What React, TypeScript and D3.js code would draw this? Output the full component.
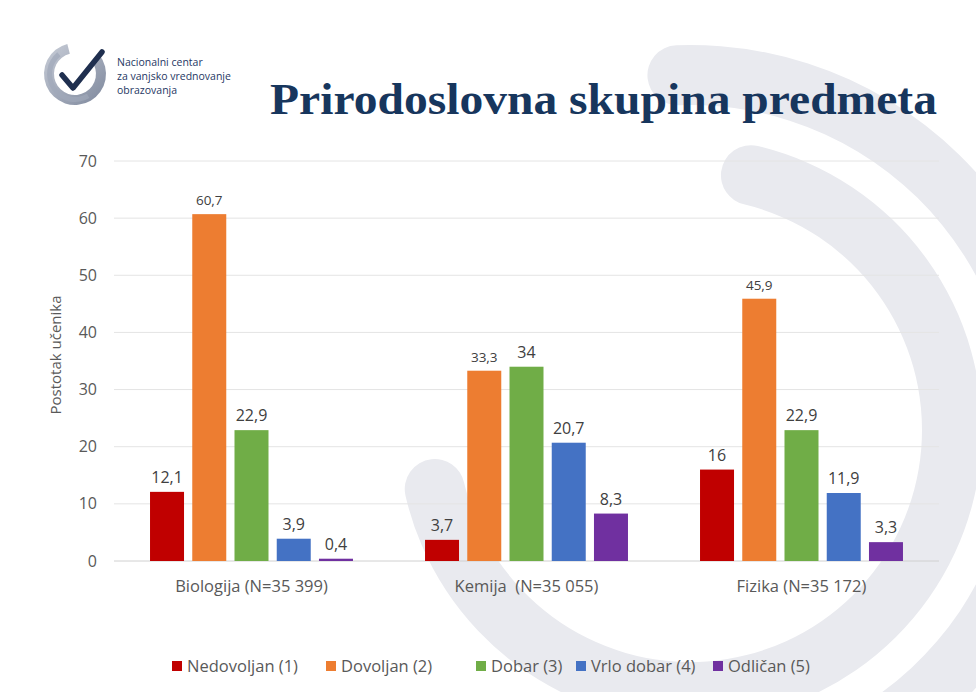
import React from "react";
import * as d3 from "d3";

const categories = ["Biologija (N=35 399)", "Kemija  (N=35 055)", "Fizika (N=35 172)"];
const seriesNames = ["Nedovoljan (1)", "Dovoljan (2)", "Dobar (3)", "Vrlo dobar (4)", "Odličan (5)"];
const seriesColors = ["#c00000", "#ed7d31", "#70ad47", "#4472c4", "#7030a0"];
const nedovoljan = [12.1, 3.7, 16];
const dovoljan = [60.7, 33.3, 45.9];
const dobar = [22.9, 34, 22.9];
const vrloDobar = [3.9, 20.7, 11.9];
const odlican = [0.4, 8.3, 3.3];
const yTicks = [0, 10, 20, 30, 40, 50, 60, 70];
const seriesValues = [nedovoljan, dovoljan, dobar, vrloDobar, odlican];

const W = 976;
const H = 692;
const FONT = "'Open Sans', Lato, sans-serif";

export default function App() {
  const x0 = d3.scaleBand<string>().domain(categories).range([114, 939]).paddingInner(0.262).paddingOuter(0.131);
  const x1 = d3.scaleBand<string>().domain(seriesNames).range([0, x0.bandwidth()]).paddingInner(0.195).paddingOuter(0);
  const y = d3.scaleLinear().domain([0, 70]).range([561, 161]);
  const fmt = (v: number) => String(v).replace(".", ",");

  const arcGen = d3.arc<any>().cornerRadius(30);
  const bgArcs = [
    { innerRadius: 325, outerRadius: 385, startAngle: -0.12, endAngle: 3.75 },
    { innerRadius: 232, outerRadius: 292, startAngle: 0.12, endAngle: 4.6 },
  ];

  const legendX = [172, 326, 476, 576, 713];

  return (
    <svg width={W} height={H} style={{ display: "block", position: "absolute", left: 0, top: 0 }}>
      <defs>
        <linearGradient id="ringGrad" x1="0" y1="0" x2="1" y2="1">
          <stop offset="0%" stopColor="#c9ced8" />
          <stop offset="100%" stopColor="#7d879c" />
        </linearGradient>
      </defs>
      <rect x={0} y={0} width={W} height={H} fill="#ffffff" />
      <g transform="translate(690,430)">
        {bgArcs.map((a, i) => (
          <path key={i} d={arcGen(a) as string} fill="#e9eaef" />
        ))}
      </g>

      {/* logo */}
      <g>
        <path
          d={d3.arc<any>()({ innerRadius: 21, outerRadius: 31, startAngle: 0.9, endAngle: 2 * Math.PI - 0.25 }) as string}
          transform="translate(75,74)"
          fill="url(#ringGrad)"
        />
        <path
          d={d3.arc<any>()({ innerRadius: 23, outerRadius: 28, startAngle: 2.6, endAngle: 5.6 }) as string}
          transform="translate(75,74)"
          fill="#a0a8b9"
          opacity={0.7}
        />
        <polyline points="62,75 73,88 102,52" fill="none" stroke="#1f2f4f" strokeWidth={5.5} strokeLinecap="round" strokeLinejoin="round" />
        <text fontFamily={FONT} fontSize={10.5} fill="#1f3864">
          <tspan x={117} y={66}>Nacionalni centar</tspan>
          <tspan x={117} y={80}>za vanjsko vrednovanje</tspan>
          <tspan x={117} y={94}>obrazovanja</tspan>
        </text>
      </g>

      <text
        x={270}
        y={114}
        fontFamily="'Liberation Serif', 'DejaVu Serif', serif"
        fontWeight="bold"
        fontSize={44}
        fill="#17365d"
        textLength={667}
        lengthAdjust="spacingAndGlyphs"
      >
        Prirodoslovna skupina predmeta
      </text>

      {/* grid */}
      {yTicks.map((t) => (
        <g key={t}>
          <line x1={114} x2={939} y1={y(t)} y2={y(t)} stroke={t === 0 ? "#d0d0d0" : "#e4e4e4"} strokeWidth={1} />
          <text x={97} y={y(t)} dy="0.35em" textAnchor="end" fontFamily={FONT} fontSize={16} fill="#595959">
            {t}
          </text>
        </g>
      ))}

      <text
        transform={`translate(61,355) rotate(-90)`}
        textAnchor="middle"
        fontFamily={FONT}
        fontSize={15}
        fill="#595959"
      >
        Postotak učenika
      </text>

      {categories.map((c, ci) => (
        <g key={c} transform={`translate(${x0(c)},0)`}>
          {seriesNames.map((s, si) => {
            const v = seriesValues[si][ci];
            const bx = x1(s) as number;
            return (
              <g key={s}>
                <rect x={bx} y={y(v)} width={x1.bandwidth()} height={y(0) - y(v)} fill={seriesColors[si]} />
                <text
                  x={bx + x1.bandwidth() / 2}
                  y={y(v) - 9}
                  textAnchor="middle"
                  fontFamily={FONT}
                  fontSize={si === 1 ? 13.5 : 16}
                  fill="#404040"
                >
                  {fmt(v)}
                </text>
              </g>
            );
          })}
          <text
            x={x0.bandwidth() / 2}
            y={592}
            textAnchor="middle"
            fontFamily={FONT}
            fontSize={16.5}
            fill="#595959"
            style={{ whiteSpace: "pre" }}
          >
            {c}
          </text>
        </g>
      ))}

      {/* legend */}
      {seriesNames.map((s, i) => (
        <g key={s} transform={`translate(${legendX[i]},666)`}>
          <rect x={0} y={-5} width={10} height={10} fill={seriesColors[i]} />
          <text x={15} y={0} dy="0.35em" fontFamily={FONT} fontSize={16.5} fill="#595959">
            {s}
          </text>
        </g>
      ))}
    </svg>
  );
}
